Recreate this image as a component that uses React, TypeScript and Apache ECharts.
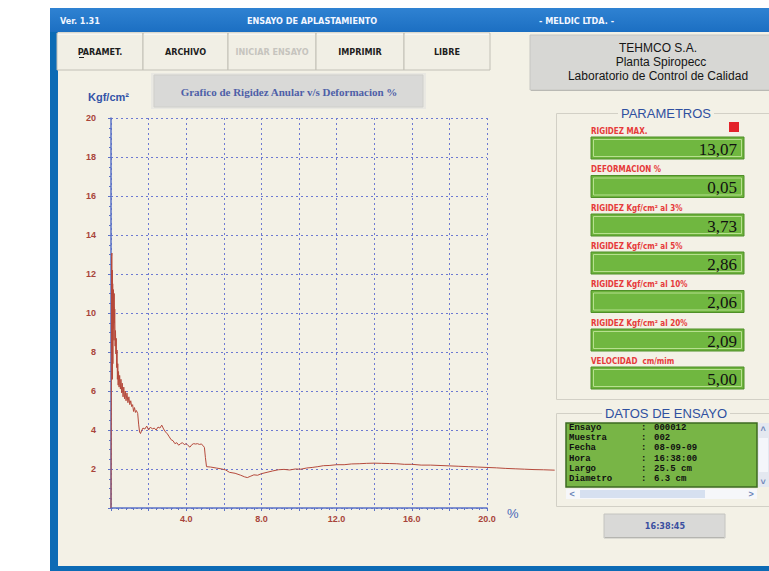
import React, { useEffect, useRef } from "react";
import * as echarts from "echarts";

// ---- Data ----
const deformacion = [
  0, 0.02, 0.03, 0.05, 0.06, 0.07, 0.08, 0.09, 0.1, 0.11,
  0.12, 0.13, 0.14, 0.15, 0.16, 0.17, 0.18, 0.2, 0.22, 0.24,
  0.26, 0.28, 0.3, 0.32, 0.34, 0.36, 0.38, 0.4, 0.43, 0.46,
  0.5, 0.53, 0.57, 0.6, 0.64, 0.68, 0.72, 0.76, 0.8, 0.85,
  0.9, 0.95, 1.0, 1.05, 1.1, 1.15, 1.2, 1.25, 1.3, 1.35,
  1.42, 1.47, 1.52, 1.57, 1.62, 1.7, 1.8, 1.9, 2.0, 2.1,
  2.2, 2.3, 2.4, 2.5, 2.6, 2.7, 2.8, 2.9, 3.0, 3.1,
  3.2, 3.3, 3.4, 3.5, 3.6, 3.7, 3.8, 3.9, 4.0, 4.1,
  4.2, 4.3, 4.4, 4.5, 4.6, 4.7, 4.8, 4.9, 4.97, 5.02,
  5.08, 5.3, 5.6, 5.9, 6.1, 6.3, 6.6, 6.9, 7.1, 7.25,
  7.4, 7.6, 7.8, 8.0, 8.3, 8.6, 8.9, 9.2, 9.5, 9.8,
  10.1, 10.4, 10.7, 11.0, 11.3, 11.6, 12.0, 12.4, 12.8, 13.2,
  13.6, 14.0, 14.4, 14.8, 15.2, 15.6, 16.0, 16.5, 17.0, 17.5,
  18.0, 18.5, 19.0, 19.5, 20.0, 20.5, 21.0, 21.5, 22.0, 22.5,
  23.0, 23.6,
];
const rigidez = [
  0, 6.5, 12.9, 13.07, 8.0, 12.2, 6.6, 11.5, 7.4, 10.4,
  9.2, 11.2, 9.4, 10.3, 8.6, 11.0, 9.5, 10.2, 8.3, 9.1,
  7.9, 8.7, 7.2, 8.1, 6.6, 7.4, 6.3, 7.0, 6.2, 6.8,
  6.1, 6.6, 5.9, 6.4, 5.7, 6.2, 5.6, 6.0, 5.5, 5.9,
  5.4, 5.7, 5.3, 5.5, 5.2, 5.3, 4.95, 5.15, 4.9, 5.0,
  4.85, 4.3, 3.9, 3.82, 3.95, 4.1, 4.05, 4.2, 4.0, 4.15,
  4.05, 4.1, 4.0, 4.15, 4.1, 4.25, 4.05, 3.9, 3.8, 3.65,
  3.5, 3.45, 3.3, 3.35, 3.22, 3.3, 3.35, 3.25, 3.3, 3.2,
  3.12, 3.25, 3.3, 3.28, 3.3, 3.26, 3.28, 3.2, 3.1, 2.6,
  2.12, 2.1, 2.05, 2.0, 1.95, 1.83, 1.78, 1.68, 1.6, 1.56,
  1.62, 1.7, 1.68, 1.76, 1.83, 1.9, 1.96, 1.98, 1.95, 2.0,
  1.99, 2.05, 2.08, 2.12, 2.17, 2.18, 2.22, 2.22, 2.26, 2.27,
  2.29, 2.3, 2.29, 2.28, 2.27, 2.24, 2.24, 2.2, 2.2, 2.18,
  2.16, 2.14, 2.12, 2.1, 2.08, 2.06, 2.03, 2.01, 1.99, 1.97,
  1.96, 1.94,
];
const xLabelValues = [4, 8, 12, 16, 20];
const yLabelValues = [2, 4, 6, 8, 10, 12, 14, 16, 18, 20];
const botones = ["PARAMET.", "ARCHIVO", "INICIAR ENSAYO", "IMPRIMIR", "LIBRE"];
const parametrosEtiquetas = [
  "RIGIDEZ MAX.",
  "DEFORMACION %",
  "RIGIDEZ Kgf/cm² al 3%",
  "RIGIDEZ Kgf/cm² al 5%",
  "RIGIDEZ Kgf/cm² al 10%",
  "RIGIDEZ Kgf/cm² al 20%",
  "VELOCIDAD  cm/mim",
];
const parametrosValores = ["13,07", "0,05", "3,73", "2,86", "2,06", "2,09", "5,00"];
const datosCampos = ["Ensayo", "Muestra", "Fecha", "Hora", "Largo", "Diametro"];
const datosValores = ["000012", "002", "08-09-09", "16:38:00", "25.5 cm", "6.3 cm"];
const encabezado = ["TEHMCO S.A.", "Planta Spiropecc", "Laboratorio de Control de Calidad"];

const NARROW = "'Liberation Sans Narrow', 'DejaVu Sans Condensed', 'Liberation Sans', sans-serif";
const SANS = "'Liberation Sans', Arial, sans-serif";
const SERIF = "'Liberation Serif', 'Times New Roman', serif";
const MONO = "'Liberation Mono', 'Courier New', monospace";

function rect(x: number, y: number, w: number, h: number, fill: any, stroke?: string, z = -10, lw = 1) {
  return {
    type: "rect",
    z,
    shape: { x, y, width: w, height: h },
    style: { fill, stroke: stroke || null, lineWidth: stroke ? lw : 0 },
    silent: true,
  };
}
function text(
  x: number, y: number, s: string, size: number, color: string,
  family: string, weight: string = "normal", align: string = "left", z = 60
) {
  return {
    type: "text", z, x, y, silent: true,
    style: {
      text: s, fill: color, fontSize: size, fontFamily: family, fontWeight: weight,
      align, verticalAlign: "middle",
    },
  };
}
function line(x1: number, y1: number, x2: number, y2: number, color: string, z = 60, lw = 1) {
  return {
    type: "line", z, silent: true,
    shape: { x1, y1, x2, y2 },
    style: { stroke: color, lineWidth: lw },
  };
}

function buildGraphics() {
  const els: any[] = [];
  // window frame
  els.push(rect(50, 8, 719, 563, "#0c6bb5", undefined, -30));
  els.push(rect(58, 31, 711, 535, "#f3f1e6", undefined, -29));
  els.push(
    rect(50, 8, 719, 24, new echarts.graphic.LinearGradient(0, 0, 0, 1, [
      { offset: 0, color: "#2f82d2" },
      { offset: 1, color: "#1c6fc2" },
    ]), undefined, -28)
  );
  els.push(text(60, 21, "Ver. 1.31", 9, "#f2f6ff", NARROW, "bold"));
  els.push(text(312, 21, "ENSAYO DE APLASTAMIENTO", 9, "#f2f6ff", NARROW, "bold", "center"));
  els.push(text(539, 21, "- MELDIC LTDA. -", 9, "#f2f6ff", NARROW, "bold"));

  // toolbar buttons
  const bx = [57, 143, 228, 316, 404, 490];
  for (let i = 0; i < botones.length; i++) {
    const x0 = bx[i];
    const w = bx[i + 1] - x0;
    els.push(rect(x0, 33, w, 37, "#f1efe5", "#c2c0b6", -20));
    els.push(line(x0 + 1, 34, x0 + w - 1, 34, "#ffffff", -19));
    const col = i === 2 ? "#c6c4be" : "#1e1e1e";
    els.push(text(x0 + w / 2, 52, botones[i], 9, col, NARROW, "bold", "center"));
  }
  // underline for P of PARAMET.
  els.push(line(79, 57.5, 84, 57.5, "#1e1e1e"));

  // header box
  els.push(rect(530, 35, 245, 55, "#d7d7d4", "#c6c6c2", -20));
  els.push(line(531, 90.5, 769, 90.5, "#b9b9b4", -19));
  els.push(text(658, 48, encabezado[0], 12, "#151515", SANS, "normal", "center"));
  els.push(text(661, 62, encabezado[1], 12, "#151515", SANS, "normal", "center"));
  els.push(text(658, 76, encabezado[2], 12, "#151515", SANS, "normal", "center"));

  // chart title box
  els.push(rect(151, 73, 275, 36, "#e9e8e2", undefined, -20));
  els.push(rect(154, 75, 269, 32, "#d9d9d7", "#cfcfcb", -19));
  els.push(text(289, 92, "Grafico de Rigidez Anular v/s Deformacion %", 11, "#4e5fa8", SERIF, "bold", "center"));

  // axis titles
  els.push(text(88, 97, "Kgf/cm²", 11, "#3454a8", SANS, "bold"));
  els.push(text(507, 513, "%", 13, "#4a67b8", SANS, "normal"));

  // PARAMETROS group
  els.push(rect(556.5, 113.5, 220, 286, "#f3f1e6", "#d2d0c6", 40));
  els.push(rect(618, 106, 96, 14, "#f3f1e6", undefined, 41));
  els.push(text(666, 113, "PARAMETROS", 13, "#2f50a0", SANS, "normal", "center"));
  els.push(rect(729, 122, 10, 10, "#e3232a", undefined, 42));
  const boxTop = [137, 175.5, 214, 252, 290.5, 329, 367];
  for (let i = 0; i < parametrosEtiquetas.length; i++) {
    const t = boxTop[i];
    els.push(text(591, t - 6, parametrosEtiquetas[i], 8, "#e63a3a", NARROW, "bold"));
    els.push(rect(591, t, 153, 22, "#6cb23c", "#4f8f28", 42));
    els.push(rect(593.5, t + 2.5, 148, 17, "#70b740", "#b7e08f", 43));
    els.push(text(737, t + 12, parametrosValores[i], 17, "#111111", SERIF, "normal", "right"));
  }

  // DATOS DE ENSAYO group
  els.push(rect(556.5, 413.5, 220, 93, "#f3f1e6", "#d2d0c6", 40));
  els.push(rect(602, 406, 128, 14, "#f3f1e6", undefined, 41));
  els.push(text(666, 413, "DATOS DE ENSAYO", 13, "#2f50a0", SANS, "normal", "center"));
  els.push(rect(566, 423, 191, 64, "#78b546", "#3d6a22", 42, 1.5));
  for (let i = 0; i < datosCampos.length; i++) {
    const y = 428 + i * 10.2;
    els.push(text(569, y, datosCampos[i], 9, "#111111", MONO, "bold"));
    els.push(text(641, y, ":", 9, "#111111", MONO, "bold"));
    els.push(text(654, y, datosValores[i], 9, "#111111", MONO, "bold"));
  }
  // vertical scrollbar
  els.push(rect(758, 423, 11, 64, "#e4e8f0", undefined, 42));
  els.push(rect(759, 438, 9, 34, "#f4f6fa", undefined, 43));
  els.push(text(763, 429, "˄", 9, "#6a84b8", SANS, "bold", "center"));
  els.push(text(763, 482, "˅", 9, "#6a84b8", SANS, "bold", "center"));
  // horizontal scrollbar
  els.push(rect(566, 489, 191, 10, "#f6f7fa", undefined, 42));
  els.push(rect(580, 490, 125, 8, "#d6e0f0", undefined, 43));
  els.push(text(572, 494, "<", 9, "#6a84b8", SANS, "bold", "center"));
  els.push(text(751, 494, ">", 9, "#6a84b8", SANS, "bold", "center"));

  // time button
  els.push(rect(604, 514, 121, 24, "#d9d9d7", "#c4c4c0", 40));
  els.push(line(605, 537.5, 724, 537.5, "#b5b5b0", 41));
  els.push(text(665, 526, "16:38:45", 9, "#3a4fa0", NARROW, "bold", "center"));
  return els;
}

export default function App() {
  const ref = useRef<HTMLDivElement>(null);
  useEffect(() => {
    if (!ref.current) return;
    const chart = echarts.init(ref.current, undefined, { renderer: "svg" });
    const data = deformacion.map((x, i) => [x, rigidez[i]]);
    const gridBlue = "#6d7ad2";
    const axisBlue = "#5b72c6";
    const labelRed = "#a8443a";
    const pxPerUnit = 376 / 20;
    chart.setOption({
      animation: false,
      backgroundColor: "#ffffff",
      grid: [
        { left: 111, top: 118, width: 376, height: 390, containLabel: false },
        // same scale, extended to the right so the curve runs past 20 %
        { left: 111, top: 118, width: pxPerUnit * 24, height: 390, containLabel: false },
      ],
      xAxis: [
        {
          type: "value",
          gridIndex: 0,
          min: 0,
          max: 20,
          interval: 2,
          axisLine: { show: true, lineStyle: { color: axisBlue, width: 1.5 } },
          axisTick: { show: true, length: 3, lineStyle: { color: axisBlue } },
          minorTick: { show: true, splitNumber: 5, length: 2, lineStyle: { color: axisBlue } },
          splitLine: { show: true, lineStyle: { color: gridBlue, type: [2, 3], width: 1 } },
          axisLabel: {
            margin: 6,
            color: labelRed,
            fontSize: 9,
            fontWeight: "bold",
            fontFamily: SANS,
            formatter: (v: number) => (xLabelValues.indexOf(v) >= 0 ? v.toFixed(1) : ""),
          },
        },
        { type: "value", gridIndex: 1, min: 0, max: 24, show: false },
      ],
      yAxis: [
        {
          type: "value",
          gridIndex: 0,
          min: 0,
          max: 20,
          interval: 2,
          axisLine: { show: true, lineStyle: { color: axisBlue, width: 1.5 } },
          axisTick: { show: true, length: 3, lineStyle: { color: axisBlue } },
          minorTick: { show: true, splitNumber: 4, length: 2, lineStyle: { color: axisBlue } },
          splitLine: { show: true, lineStyle: { color: gridBlue, type: [2, 3], width: 1 } },
          axisLabel: {
            margin: 15,
            color: labelRed,
            fontSize: 9,
            fontWeight: "bold",
            fontFamily: SANS,
            formatter: (v: number) => (yLabelValues.indexOf(v) >= 0 ? String(v) : ""),
          },
        },
        { type: "value", gridIndex: 1, min: 0, max: 20, show: false },
      ],
      series: [
        {
          type: "line",
          xAxisIndex: 1,
          yAxisIndex: 1,
          data,
          showSymbol: false,
          z: 5,
          lineStyle: { color: "#b54a3c", width: 1 },
        },
      ],
      graphic: { elements: buildGraphics() },
    });
    return () => chart.dispose();
  }, []);
  return (
    <div
      ref={ref}
      style={{ position: "absolute", left: 0, top: 0, width: 769, height: 571 }}
    />
  );
}
